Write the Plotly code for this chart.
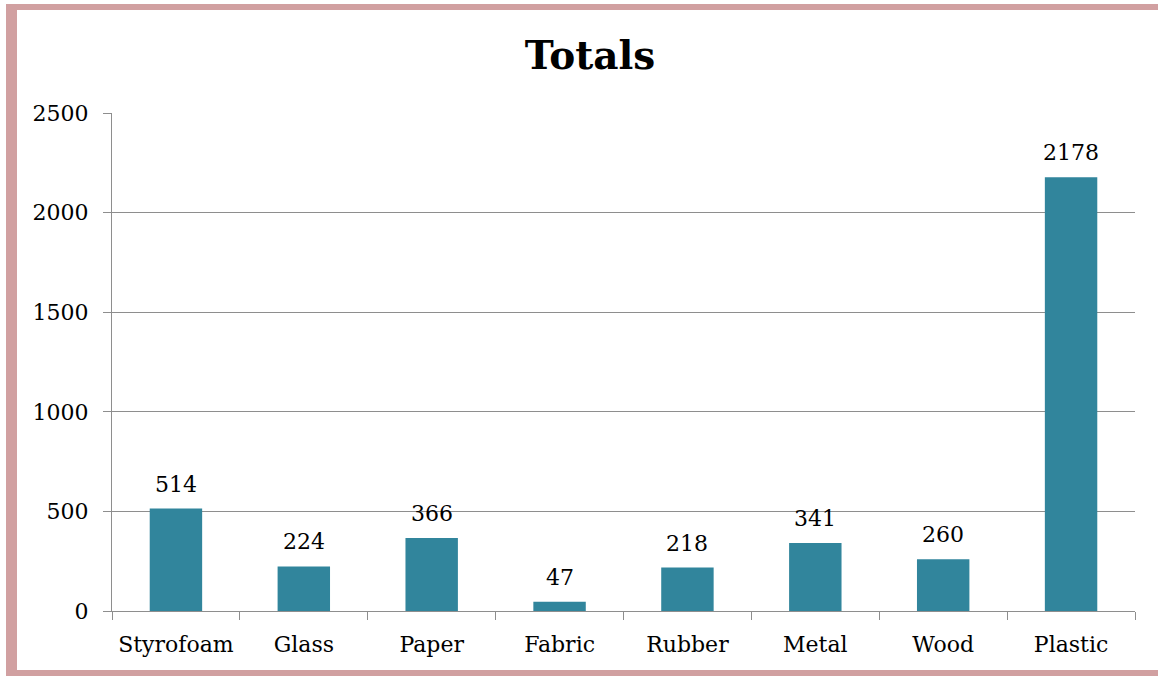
import plotly.graph_objects as go

# chart data
categories = ["Styrofoam", "Glass", "Paper", "Fabric", "Rubber", "Metal", "Wood", "Plastic"]
totals = [514, 224, 366, 47, 218, 341, 260, 2178]
y_ticks = [0, 500, 1000, 1500, 2000, 2500]

W, H = 1158, 676
M_L, M_R, M_T, M_B = 112, 23, 113, 65

BAR_COLOR = "#31859C"
BORDER_COLOR = "#D1A0A1"
GRID_COLOR = "#8E8E8E"
FONT = "DejaVu Serif"


def px_x(px):
    'pixel x -> paper x'
    return (px - M_L) / (W - M_L - M_R)


def px_y(py):
    'pixel y -> paper y'
    return (H - M_B - py) / (H - M_T - M_B)


fig = go.Figure()

fig.add_trace(go.Bar(
    x=categories,
    y=totals,
    marker=dict(color=BAR_COLOR, line=dict(width=0)),
    showlegend=False,
))

# value labels above the bars
for cat, val in zip(categories, totals):
    fig.add_annotation(
        x=cat, y=val, text=str(val),
        showarrow=False, yanchor="bottom", yshift=10,
        font=dict(family=FONT, size=22, color="black"),
    )

# frame around the chart (left, top, bottom sides)
border = [
    (6, 4, 17, 690),
    (6, 4, 1170, 10),
    (6, 670, 1170, 690),
]
for x0, y0, x1, y1 in border:
    fig.add_shape(
        type="rect", xref="paper", yref="paper",
        x0=px_x(x0), x1=px_x(x1), y0=px_y(y0), y1=px_y(y1),
        fillcolor=BORDER_COLOR, line=dict(width=0), layer="above",
    )

fig.update_layout(
    width=W, height=H,
    margin=dict(l=M_L, r=M_R, t=M_T, b=M_B, pad=0),
    paper_bgcolor="white",
    plot_bgcolor="white",
    bargap=0.59,
    font=dict(family=FONT, size=22, color="black"),
    title=dict(
        text="<b>Totals</b>",
        font=dict(family=FONT, size=39, color="black"),
        x=590 / W, xanchor="center", xref="container",
        y=1 - 55 / H, yanchor="middle", yref="container",
    ),
)

fig.update_xaxes(
    type="category",
    showline=True, linecolor=GRID_COLOR, linewidth=1,
    ticks="outside", tickson="boundaries", ticklen=8,
    tickcolor=GRID_COLOR, tickwidth=1,
    showgrid=False,
    ticklabelstandoff=14,
    tickfont=dict(family=FONT, size=22, color="black"),
)

fig.update_yaxes(
    range=[0, 2500],
    tickvals=y_ticks,
    showline=True, linecolor=GRID_COLOR, linewidth=1,
    ticks="outside", ticklen=8, tickcolor=GRID_COLOR, tickwidth=1,
    showgrid=True, gridcolor=GRID_COLOR, gridwidth=1,
    zeroline=False,
    ticklabelstandoff=10,
    tickfont=dict(family=FONT, size=22, color="black"),
)

# drop the default 8px page margin so the figure sits at the window corner
fig.write_html(
    "out.html",
    config={"displayModeBar": False},
    post_script="document.body.style.margin='0px';",
)
